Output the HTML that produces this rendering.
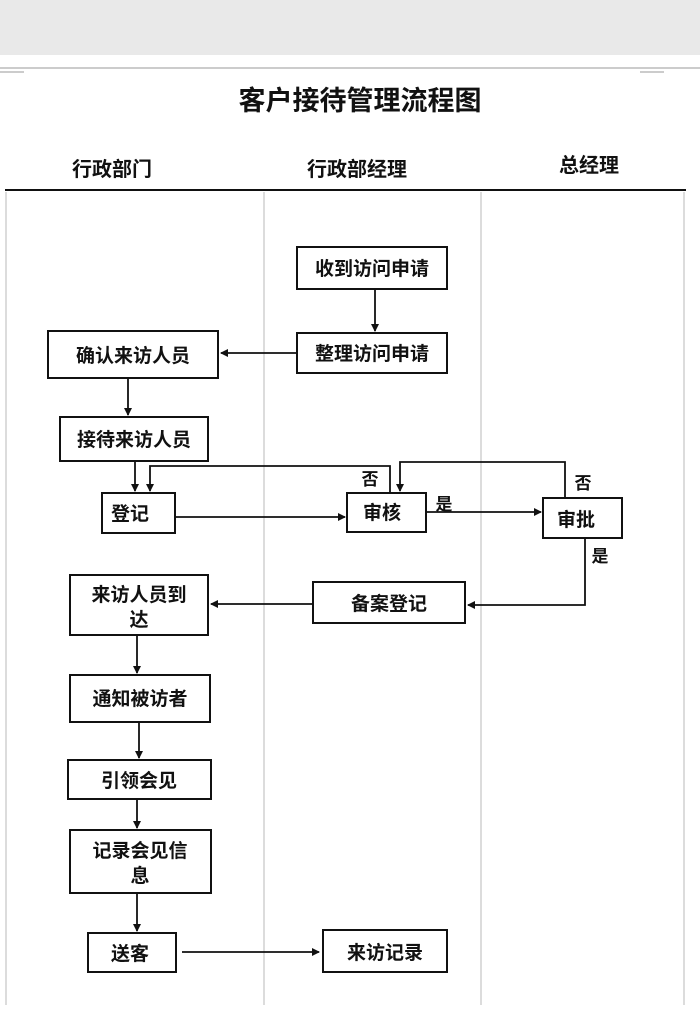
<!DOCTYPE html>
<html><head><meta charset="utf-8">
<style>
html,body{margin:0;padding:0;background:#fff;}
svg{display:block;}
text{font-family:"Liberation Sans","Noto Sans CJK SC","WenQuanYi Zen Hei",sans-serif;font-weight:bold;fill:#111;}
</style></head>
<body>
<svg width="700" height="1030" viewBox="0 0 700 1030" xmlns="http://www.w3.org/2000/svg">
<defs>
<marker id="a" markerWidth="8" markerHeight="8" refX="7" refY="4" orient="auto" markerUnits="userSpaceOnUse">
<path d="M0,0 L8,4 L0,8 z" fill="#111"/></marker>
</defs>
<rect x="0" y="0" width="700" height="55" fill="#e9e9e9"/>
<line x1="0" y1="68" x2="700" y2="68" stroke="#bbb" stroke-width="1.5"/>
<path d="M0,72 H24 M640,72 H664" stroke="#999" stroke-width="1" fill="none"/>
<text x="360" y="110" font-size="27" text-anchor="middle">客户接待管理流程图</text>
<text x="112" y="176" font-size="20" text-anchor="middle">行政部门</text>
<text x="357" y="176" font-size="20" text-anchor="middle">行政部经理</text>
<text x="589" y="172" font-size="20" text-anchor="middle">总经理</text>
<line x1="5" y1="190" x2="686" y2="190" stroke="#111" stroke-width="2"/>
<g stroke="#d0d0d0" stroke-width="1.5">
<line x1="6" y1="192" x2="6" y2="1005"/>
<line x1="264" y1="192" x2="264" y2="1005"/>
<line x1="481" y1="192" x2="481" y2="1005"/>
<line x1="684" y1="192" x2="684" y2="1005"/>
</g>
<g fill="#fff" stroke="#111" stroke-width="2">
<rect x="297" y="247" width="150" height="42"/>
<rect x="297" y="333" width="150" height="40"/>
<rect x="48" y="331" width="170" height="47"/>
<rect x="60" y="417" width="148" height="44"/>
<rect x="102" y="493" width="73" height="40"/>
<rect x="347" y="493" width="79" height="39"/>
<rect x="543" y="498" width="79" height="40"/>
<rect x="313" y="582" width="152" height="41"/>
<rect x="70" y="575" width="138" height="60"/>
<rect x="70" y="675" width="140" height="47"/>
<rect x="68" y="760" width="143" height="39"/>
<rect x="70" y="830" width="141" height="63"/>
<rect x="88" y="933" width="88" height="39"/>
<rect x="323" y="930" width="124" height="42"/>
</g>
<g font-size="19" text-anchor="middle">
<text x="372" y="275">收到访问申请</text>
<text x="372" y="360">整理访问申请</text>
<text x="133" y="362">确认来访人员</text>
<text x="134" y="446">接待来访人员</text>
<text x="130" y="520">登记</text>
<text x="382" y="519">审核</text>
<text x="576" y="526">审批</text>
<text x="389" y="610">备案登记</text>
<text x="139" y="601">来访人员到</text>
<text x="139" y="626">达</text>
<text x="140" y="705">通知被访者</text>
<text x="139" y="787">引领会见</text>
<text x="140" y="857">记录会见信</text>
<text x="140" y="882">息</text>
<text x="130" y="960">送客</text>
<text x="385" y="959">来访记录</text>
<text x="370" y="485" font-size="17">否</text>
<text x="583" y="489" font-size="17">否</text>
<text x="444" y="510" font-size="17">是</text>
<text x="600" y="562" font-size="17">是</text>
</g>
<g stroke="#111" stroke-width="1.8" fill="none">
<line x1="375" y1="289" x2="375" y2="331" marker-end="url(#a)"/>
<line x1="297" y1="353" x2="221" y2="353" marker-end="url(#a)"/>
<line x1="128" y1="378" x2="128" y2="415" marker-end="url(#a)"/>
<line x1="135" y1="461" x2="135" y2="491" marker-end="url(#a)"/>
<polyline points="390,493 390,466 150,466 150,491" marker-end="url(#a)"/>
<line x1="175" y1="517" x2="345" y2="517" marker-end="url(#a)"/>
<line x1="426" y1="512" x2="541" y2="512" marker-end="url(#a)"/>
<polyline points="565,498 565,462 400,462 400,491" marker-end="url(#a)"/>
<polyline points="585,538 585,605 468,605" marker-end="url(#a)"/>
<line x1="313" y1="604" x2="211" y2="604" marker-end="url(#a)"/>
<line x1="137" y1="635" x2="137" y2="673" marker-end="url(#a)"/>
<line x1="139" y1="722" x2="139" y2="758" marker-end="url(#a)"/>
<line x1="137" y1="799" x2="137" y2="828" marker-end="url(#a)"/>
<line x1="137" y1="893" x2="137" y2="931" marker-end="url(#a)"/>
<line x1="182" y1="952" x2="319" y2="952" marker-end="url(#a)"/>
</g>
</svg>
</body></html>
